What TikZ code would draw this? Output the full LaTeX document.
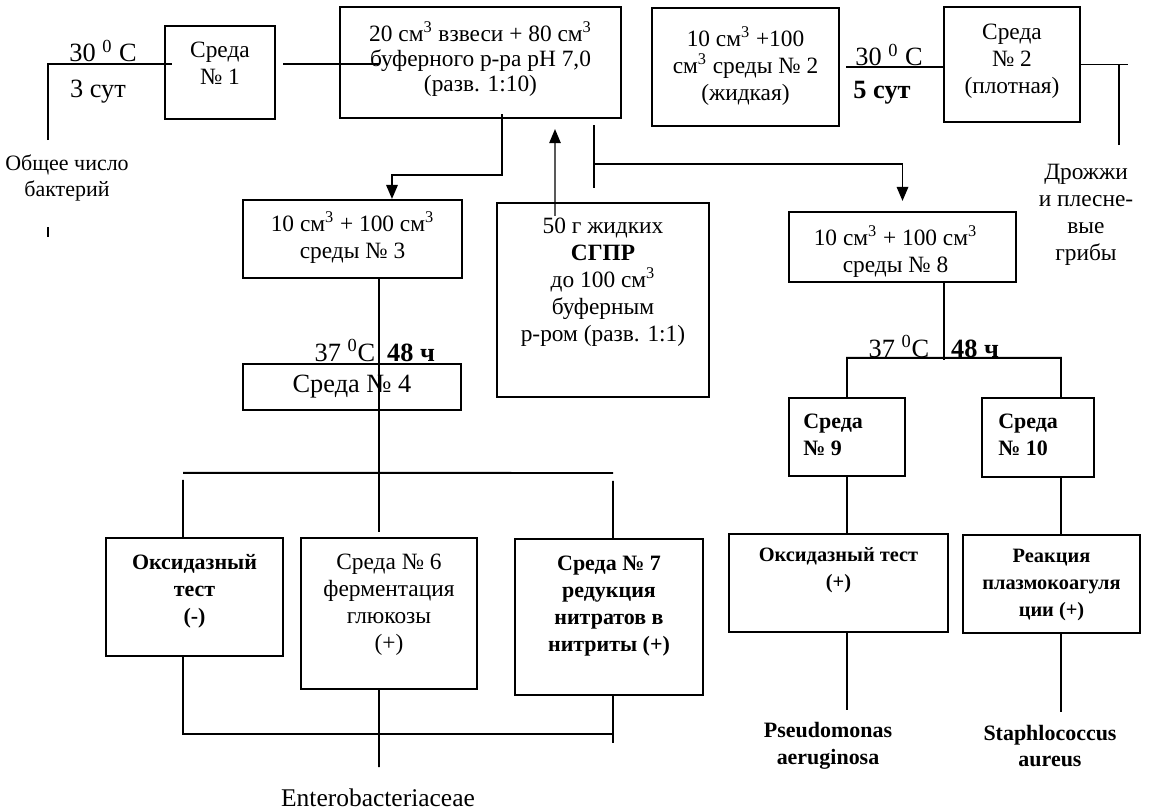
\documentclass[tikz,border=0pt]{standalone}
\usepackage{fontspec}
\setmainfont{Liberation Serif}
\usetikzlibrary{arrows.meta}

\begin{document}
\begin{tikzpicture}[x=0.02cm,y=0.02cm,>={Triangle[length=8pt,width=6.5pt]}]
\tikzset{
    box/.style={%
        draw, line width=1.2pt,
        rectangle,
        inner sep=0pt
        },
    txt/.style={%
        align=center, inner sep=0pt,
        font=\fontsize{13.3}{15.3}\selectfont
        },
    btxt/.style={txt, font=\fontsize{12.5}{15.3}\selectfont\bfseries},
    lbl/.style={txt, font=\fontsize{15}{17}\selectfont},
    blbl/.style={txt, font=\fontsize{15}{17}\selectfont\bfseries},
    link/.style={line width=1.1pt},
}
\useasboundingbox (0,0) rectangle (1152,-811);
%%%BOXES
\node[box, minimum width=2.2cm, minimum height=1.86cm] (s1) at (220,-72.5) {};
\node[box, minimum width=5.62cm, minimum height=2.22cm] (susp) at (480.5,-62.5) {};
\node[box, minimum width=3.74cm, minimum height=2.36cm] (liq) at (745.5,-67) {};
\node[box, minimum width=2.72cm, minimum height=2.3cm] (s2) at (1012,-64.5) {};
\node[box, minimum width=4.38cm, minimum height=1.56cm] (m3) at (352.5,-239) {};
\node[box, minimum width=4.24cm, minimum height=3.88cm] (sgpr) at (603,-300) {};
\node[box, minimum width=4.54cm, minimum height=1.4cm] (m8) at (902.5,-247) {};
\node[box, minimum width=4.36cm, minimum height=0.92cm] (s4) at (352,-387) {};
\node[box, minimum width=2.32cm, minimum height=1.56cm] (s9) at (847,-437) {};
\node[box, minimum width=2.24cm, minimum height=1.58cm] (s10) at (1038,-437.5) {};
\node[box, minimum width=3.54cm, minimum height=2.36cm] (ox1) at (194.5,-597) {};
\node[box, minimum width=3.52cm, minimum height=3.02cm] (s6) at (389,-613.5) {};
\node[box, minimum width=3.76cm, minimum height=3.12cm] (s7) at (609,-617) {};
\node[box, minimum width=4.38cm, minimum height=1.96cm] (ox2) at (838.5,-583) {};
\node[box, minimum width=3.54cm, minimum height=1.96cm] (plasma) at (1051.5,-584) {};
%%%BOX TEXTS
\node[txt, anchor=north] (s1t) at ([yshift=-0.34cm]s1.north) {Среда\\№ 1};
\node[txt, anchor=north, font=\fontsize{13.3}{14.2}\selectfont] (suspt) at ([yshift=-0.3cm]susp.north)
  {20 см\textsuperscript{3} взвеси + 80 см\textsuperscript{3}\\буферного р-ра pH 7,0\\(разв. 1:10)};
\node[txt, anchor=north] (liqt) at ([yshift=-0.38cm]liq.north)
  {10 см\textsuperscript{3} +100\\см\textsuperscript{3} среды № 2\\(жидкая)};
\node[txt, anchor=north] (s2t) at ([yshift=-0.36cm]s2.north) {Среда\\№ 2\\(плотная)};
\node[txt, anchor=north] (m3t) at ([yshift=-0.24cm]m3.north)
  {10 см\textsuperscript{3} + 100 см\textsuperscript{3}\\среды № 3};
\node[txt, anchor=north] (sgprt) at ([yshift=-0.32cm]sgpr.north)
  {50 г жидких\\{\bfseries СГПР}\\до 100 см\textsuperscript{3}\\буферным\\р-ром (разв. 1:1)};
\node[txt, anchor=north] (m8t) at ([shift={(-7,-14)}]m8.north)
  {10 см\textsuperscript{3} + 100 см\textsuperscript{3}\\среды № 8};
\node[lbl] (s4t) at (s4) {Среда № 4};
\node[btxt, anchor=north west, align=left] (s9t) at ([shift={(15,-17)}]s9.north west) {Среда\\№ 9};
\node[btxt, anchor=north west, align=left] (s10t) at ([shift={(17,-17)}]s10.north west) {Среда\\№ 10};
\node[btxt, anchor=north] (ox1t) at ([yshift=-0.34cm]ox1.north) {Оксидазный\\тест\\(-)};
\node[txt, anchor=north] (s6t) at ([yshift=-0.34cm]s6.north) {Среда № 6\\ферментация\\глюкозы\\(+)};
\node[btxt, anchor=north] (s7t) at ([yshift=-0.36cm]s7.north) {Среда № 7\\редукция\\нитратов в\\нитриты (+)};
\node[btxt, anchor=north, font=\fontsize{11.6}{15.3}\selectfont\bfseries] (ox2t) at ([yshift=-0.28cm]ox2.north) {Оксидазный тест\\(+)};
\node[btxt, anchor=north, font=\fontsize{11.6}{15.3}\selectfont\bfseries] (plasmat) at ([yshift=-0.3cm]plasma.north) {Реакция\\плазмокоагуля\\ции (+)};
%%%FREE TEXTS
\node[lbl, anchor=base] (t30a) at (103,-62) {30 \textsuperscript{0} C};
\node[lbl, anchor=base] (t3d) at (98,-97) {3 сут};
\node[txt, font=\fontsize{12.5}{15.3}\selectfont] (total) at (67,-178) {Общее число\\бактерий};
\node[lbl, anchor=base] (t30b) at (889,-66) {30 \textsuperscript{0} C};
\node[blbl, anchor=base] (t5d) at (882,-98) {5 сут};
\node[txt] (yeast) at (1086,-215) {Дрожжи\\и плесне-\\вые\\грибы};
\node[lbl, anchor=base] (t37a) at (345,-361) {37 \textsuperscript{0}C};
\node[blbl, anchor=base] (t48a) at (411,-361) {48 ч};
\node[lbl, anchor=base] (t37b) at (899,-357) {37 \textsuperscript{0}C};
\node[blbl, anchor=base] (t48b) at (975,-357) {48 ч};
\node[lbl, font=\fontsize{14.5}{17}\selectfont] (entero) at (378,-798) {Enterobacteriaceae};
\node[btxt] (pseudo) at (828,-746) {Pseudomonas\\aeruginosa};
\node[btxt] (staph) at (1050,-746) {Staphlococcus\\aureus};
%%%FREE ENDS
\coordinate (total-in) at (48,-140);
\coordinate (tick) at (48,-227);
\coordinate (yeast-in) at (1119,-145);
\coordinate (ent-in) at (379,-767);
\coordinate (psd-in) at (847,-710);
\coordinate (stf-in) at (1061,-712);
%%%TOP ROW
\draw[link] (total-in) |- ([xshift=0.16cm]s1.171);
\draw[line width=1.6pt] (tick) -- ++(0,-10);
\draw[link] ([xshift=0.14cm]s1.9) -- ([xshift=0.8cm]s1.9 -| susp.west);
\draw[link] ([xshift=0.12cm]liq.east) -- (liq.east -| s2.west);
\draw[link] (s2.east) -- ([xshift=0.18cm]s2.east -| yeast-in);
\draw[link] (yeast-in) -- (yeast-in |- s2.east);
%%%SUSPENSION
\draw[link,->] ([shift={(21.5,5)}]susp.south) -- ++(0,-61) -| ([xshift=0.79cm]m3.north);
\draw[line width=0.8pt,->] ([shift={(-48,-14)}]sgpr.north) -- ([shift={(74.5,-10)}]susp.south);
\draw[link] ([shift={(113.5,-6)}]susp.south) -- ++(0,-63);
\draw[link,->] ([shift={(113.5,-45)}]susp.south) -| ([yshift=0.2cm]m8.north);
%%%LEFT BRANCH
\draw[link] ([xshift=0.53cm]m3.south) -- ([shift={(-10,5)}]s6.north);
\draw[link] ([shift={(-11.5,64)}]ox1.north) -- ([shift={(4,65)}]s7.north);
\draw[link] ([shift={(-11.5,57)}]ox1.north) -- ([xshift=-0.23cm]ox1.north);
\draw[link] ([shift={(4,57)}]s7.north) -- ([xshift=0.08cm]s7.north);
\draw[link] ([xshift=-0.23cm]ox1.south) |- ([shift={(4,-38)}]s7.south);
\draw[link] ([xshift=0.08cm]s7.south) -- ++(0,-47);
\draw[link] ([xshift=-0.2cm]s6.south) -- (ent-in);
%%%RIGHT BRANCH
\draw[link] ([xshift=0.83cm]m8.south) -- ++(0,-77);
\draw[link] (s9.north) |- ([shift={(23,39)}]s10.north) -- ([xshift=0.46cm]s10.north);
\draw[link] (s9.south) -- (s9.south |- ox2.north);
\draw[link] ([xshift=0.46cm]s10.south) -- ([xshift=0.46cm]s10.south |- plasma.north);
\draw[link] (ox2.south -| psd-in) -- (psd-in);
\draw[link] (plasma.south -| stf-in) -- (stf-in);
\end{tikzpicture}
\end{document}
